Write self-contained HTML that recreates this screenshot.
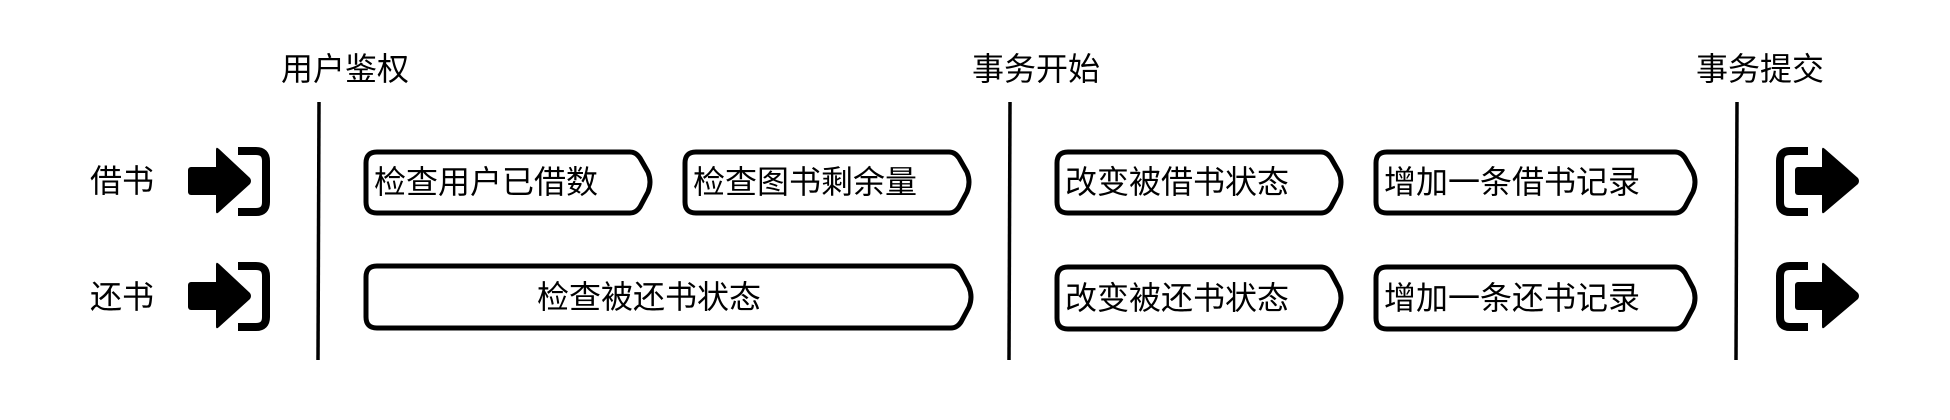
<!DOCTYPE html>
<html><head><meta charset="utf-8"><style>
html,body{margin:0;padding:0;background:#fff;}
svg{display:block;}
text{font-family:"Liberation Sans","WenQuanYi Zen Hei","Noto Sans CJK SC",sans-serif;fill:#000;}
</style></head><body>
<svg width="1950" height="420" viewBox="0 0 1950 420" xmlns="http://www.w3.org/2000/svg">
<g font-size="32">
<text x="281" y="80">用户鉴权</text>
<text x="972" y="80">事务开始</text>
<text x="1696" y="80">事务提交</text>
<text x="90" y="192">借书</text>
<text x="90" y="308">还书</text>
</g>
<g stroke="#000" stroke-width="3.5" fill="none">
<line x1="319" y1="102" x2="318" y2="360"/>
<line x1="1010" y1="102" x2="1009" y2="360"/>
<line x1="1737" y1="102" x2="1736" y2="360"/>
</g>
<g id="enter">
<rect x="188" y="167" width="32" height="28" rx="3" fill="#000"/>
<path d="M216 150 Q216 146 219 149 L250 178 Q252 181 250 184 L219 212 Q216 215 216 211 Z" fill="#000"/>
<path d="M238 151 H256 Q266 151 266 161 V202 Q266 212 256 212 H238" fill="none" stroke="#000" stroke-width="8"/>
</g>
<use href="#enter" transform="translate(0,115)"/>
<g id="exit">
<path d="M1808 151 H1790 Q1780 151 1780 161 V202 Q1780 212 1790 212 H1808" fill="none" stroke="#000" stroke-width="8"/>
<rect x="1795" y="167" width="32" height="28" rx="3" fill="#000"/>
<path d="M1822 150 Q1822 146 1825 149 L1858 178 Q1860 181 1858 184 L1825 212 Q1822 215 1822 211 Z" fill="#000"/>
</g>
<use href="#exit" transform="translate(0,115)"/>
<g stroke="#000" stroke-width="5" fill="#fff" stroke-linejoin="round">
<path d="M377 152 H630 Q636 152 640 158 L648 172 Q652 182 648 192 L640 207 Q636 213 630 213 H377 Q366 213 366 202 V163 Q366 152 377 152 Z"/>
<path d="M696 152 H949 Q955 152 959 158 L967 172 Q971 182 967 192 L959 207 Q955 213 949 213 H696 Q685 213 685 202 V163 Q685 152 696 152 Z"/>
<path d="M1068 152 H1321 Q1327 152 1331 158 L1339 172 Q1343 182 1339 192 L1331 207 Q1327 213 1321 213 H1068 Q1057 213 1057 202 V163 Q1057 152 1068 152 Z"/>
<path d="M1387 152 H1675 Q1681 152 1685 158 L1693 172 Q1697 182 1693 192 L1685 207 Q1681 213 1675 213 H1387 Q1376 213 1376 202 V163 Q1376 152 1387 152 Z"/>
<path d="M377 266 H951 Q957 266 961 272 L969 287 Q973 297 969 307 L961 322 Q957 328 951 328 H377 Q366 328 366 317 V277 Q366 266 377 266 Z"/>
<path d="M1068 267 H1321 Q1327 267 1331 273 L1339 288 Q1343 298 1339 308 L1331 323 Q1327 329 1321 329 H1068 Q1057 329 1057 318 V278 Q1057 267 1068 267 Z"/>
<path d="M1387 267 H1675 Q1681 267 1685 273 L1693 288 Q1697 298 1693 308 L1685 323 Q1681 329 1675 329 H1387 Q1376 329 1376 318 V278 Q1376 267 1387 267 Z"/>
</g>
<g font-size="32">
<text x="374" y="193">检查用户已借数</text>
<text x="693" y="193">检查图书剩余量</text>
<text x="1065" y="193">改变被借书状态</text>
<text x="1384" y="193">增加一条借书记录</text>
<text x="537" y="308">检查被还书状态</text>
<text x="1065" y="309">改变被还书状态</text>
<text x="1384" y="309">增加一条还书记录</text>
</g>
</svg>
</body></html>
